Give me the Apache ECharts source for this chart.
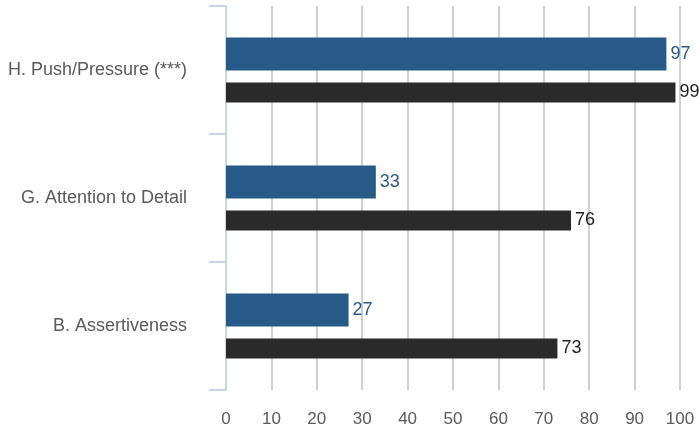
<!DOCTYPE html>
<html>
<head>
<meta charset="utf-8">
<script src="https://cdn.jsdelivr.net/npm/echarts@6/dist/echarts.min.js"></script>
<style>
  html, body { margin: 0; padding: 0; background: #fff; }
  #chart { width: 699px; height: 432px; }
</style>
</head>
<body>
<div id="chart"></div>
<script>
// Categories, listed top to bottom
const categories = ['H. Push/Pressure (***)', 'G. Attention to Detail', 'B. Assertiveness'];
// Blue series (upper bar in each group)
const blueValues = [97, 33, 27];
// Dark series (lower bar in each group)
const darkValues = [99, 76, 73];
// Value axis ticks
const xMin = 0, xMax = 100, xStep = 10;

const FONT = 'Liberation Sans, Arial, sans-serif';
const BLUE = '#285a88';
const DARK = '#2a2a2a';

const chart = echarts.init(document.getElementById('chart'), null, { renderer: 'canvas' });
chart.setOption({
  animation: false,
  grid: { left: 226, right: 19, top: 6, bottom: 42, containLabel: false },
  xAxis: {
    type: 'value',
    min: xMin, max: xMax, interval: xStep,
    axisLine: { show: false },
    axisTick: { show: false },
    axisLabel: { color: '#595959', fontSize: 17, fontFamily: FONT, margin: 21 },
    splitLine: { show: true, lineStyle: { color: '#d0d0d0', width: 2 } }
  },
  yAxis: {
    type: 'category',
    data: categories,
    inverse: true,
    axisLine: { show: true, lineStyle: { color: '#c8d5e3', width: 2 } },
    axisTick: { show: true, length: 17, lineStyle: { color: '#c8d5e3', width: 2 } },
    axisLabel: { color: '#595959', fontSize: 18, fontFamily: FONT, margin: 39, padding: [8, 0, 0, 0] }
  },
  series: [
    {
      type: 'bar',
      data: blueValues,
      barWidth: 33,
      barGap: '36%',
      itemStyle: { color: BLUE },
      label: { show: true, position: 'right', distance: 4, color: BLUE, fontSize: 18, fontFamily: FONT }
    },
    {
      type: 'bar',
      data: darkValues,
      barWidth: 20,
      itemStyle: { color: DARK },
      label: { show: true, position: 'right', distance: 4, color: '#1e1e1e', fontSize: 18, fontFamily: FONT }
    }
  ]
});
</script>
</body>
</html>
